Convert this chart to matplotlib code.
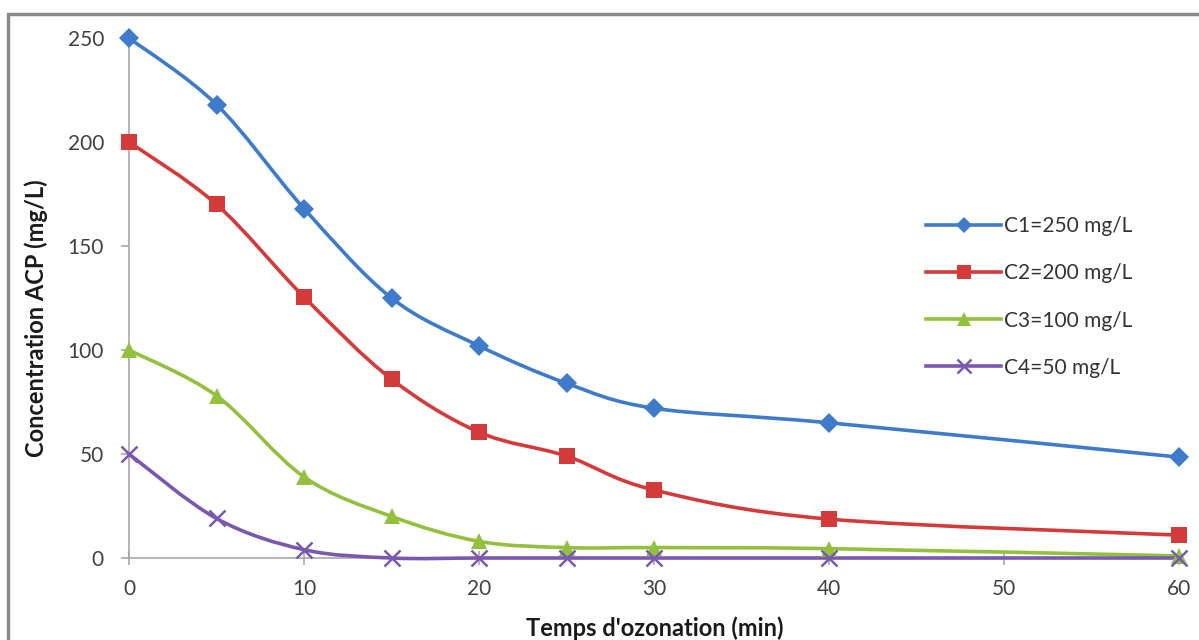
import numpy as np
import matplotlib
matplotlib.use("Agg")
import matplotlib.pyplot as plt
from matplotlib.path import Path
from matplotlib.patches import PathPatch, Rectangle
from matplotlib.lines import Line2D

# ---- data ----
time_min = [0, 5, 10, 15, 20, 25, 30, 40, 60]
c1 = [250, 218, 168, 125, 102, 84, 72, 65, 48.5]
c2 = [200, 170, 125.5, 86, 60.5, 49, 32.7, 18.7, 11]
c3 = [100, 78, 39, 20, 8, 5, 5, 4.5, 1]
c4 = [50, 19, 4, 0, 0, 0, 0, 0, 0]
labels = ["C1=250 mg/L", "C2=200 mg/L", "C3=100 mg/L", "C4=50 mg/L"]
x_ticks = [0, 10, 20, 30, 40, 50, 60]
y_ticks = [0, 50, 100, 150, 200, 250]
xlabel = "Temps d'ozonation (min)"
ylabel = "Concentration ACP (mg/L)"

colors = ["#3E7CCB", "#D43A3A", "#93C13E", "#7A58B0"]
markers = ["D", "s", "^", "x"]
msizes = [10, 12, 12, 12]

FONT = ["Lato", "DejaVu Sans"]
plt.rcParams["font.family"] = FONT


def smooth_path(xs, ys):
    xs = np.asarray(xs, float)
    ys = np.asarray(ys, float)
    pts = np.column_stack([xs, ys])
    n = len(pts)
    verts = [pts[0]]
    codes = [Path.MOVETO]
    for i in range(n - 1):
        p0 = pts[i - 1] if i > 0 else pts[i]
        p1 = pts[i]
        p2 = pts[i + 1]
        p3 = pts[i + 2] if i + 2 < n else pts[i + 1]
        c1p = p1 + (p2 - p0) / 6.0
        c2p = p2 - (p3 - p1) / 6.0
        verts += [c1p, c2p, p2]
        codes += [Path.CURVE4] * 3
    return Path(verts, codes)


fig = plt.figure(figsize=(11.99, 6.40), dpi=100)
fig.patch.set_facecolor("white")

# outer chart frame
fig.add_artist(Rectangle((8 / 1199, -0.05), 1.2, (640 - 14) / 640 + 0.05,
                         transform=fig.transFigure, fill=False,
                         edgecolor="#8a8a8a", lw=2.5))

ax = fig.add_axes([129 / 1199, (640 - 558) / 640, 1050 / 1199, 520 / 640])
ax.set_xlim(0, 60)
ax.set_ylim(0, 250)
ax.set_facecolor("none")

for s in ["top", "right"]:
    ax.spines[s].set_visible(False)
for s in ["left", "bottom"]:
    ax.spines[s].set_color("#a8a8a8")
    ax.spines[s].set_linewidth(1.2)

ax.set_xticks(x_ticks)
ax.set_yticks(y_ticks)
ax.tick_params(axis="y", direction="out", length=6, color="#a8a8a8", width=1.2,
               labelsize=15, labelcolor="#404040", pad=12)
ax.tick_params(axis="x", direction="inout", length=10, color="#a8a8a8", width=1.2,
               labelsize=15, labelcolor="#404040", pad=10)

series = [c1, c2, c3, c4]
handles = []
for ys, col, mk, ms, lab in zip(series, colors, markers, msizes, labels):
    patch = PathPatch(smooth_path(time_min, ys), facecolor="none", edgecolor=col,
                      lw=2.6, transform=ax.transData, clip_on=False, zorder=3,
                      capstyle="round", joinstyle="round")
    ax.add_patch(patch)
    if mk == "x":
        ax.plot(time_min, ys, ls="none", marker=mk, ms=ms, mew=1.8,
                color=col, clip_on=False, zorder=4)
    else:
        ax.plot(time_min, ys, ls="none", marker=mk, ms=ms, mew=0,
                color=col, clip_on=False, zorder=4)
    handles.append(Line2D([], [], color=col, lw=2.6, marker=mk,
                          ms=ms * 0.8, mew=(1.8 if mk == "x" else 0)))

ax.set_xlabel(xlabel, fontsize=17, fontweight="bold", color="#1a1a1a", va="center")
ax.set_ylabel(ylabel, fontsize=17, fontweight="bold", color="#1a1a1a", va="center")
ax.xaxis.set_label_coords((655 - 129) / 1050, (558 - 628) / 520)
ax.yaxis.set_label_coords((36 - 129) / 1050, (558 - 318) / 520)

leg = ax.legend(handles, labels, loc="upper left",
                bbox_to_anchor=(916 / 1199, (640 - 206) / 640),
                bbox_transform=fig.transFigure, frameon=False,
                fontsize=15, handlelength=3.6, handletextpad=0.1,
                labelspacing=1.3, borderpad=0)
for t in leg.get_texts():
    t.set_color("#333333")

fig.savefig("out.png", dpi=100, facecolor="white")
